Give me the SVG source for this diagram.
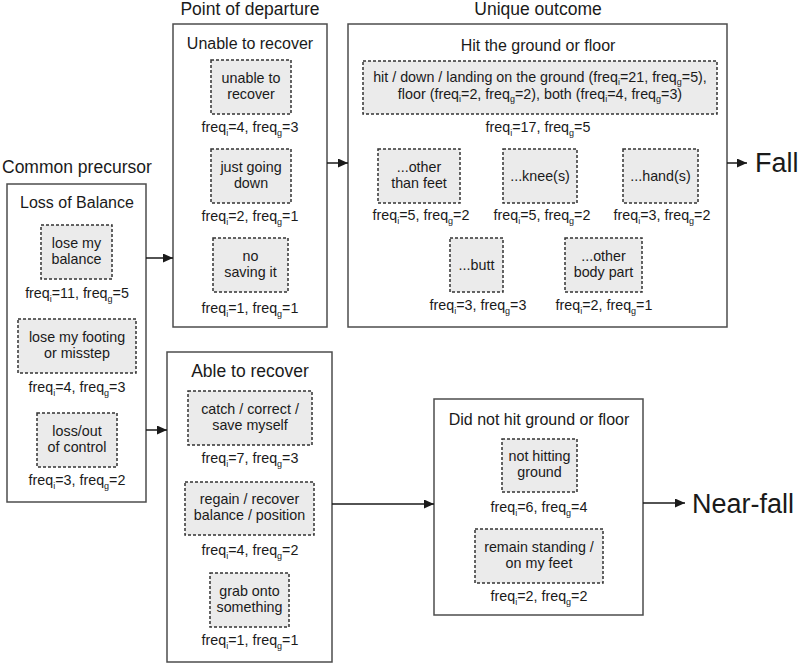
<svg xmlns="http://www.w3.org/2000/svg" width="800" height="664" viewBox="0 0 800 664">
<style>
text{font-family:"Liberation Sans",Arial,sans-serif;fill:#1a1a1a;text-anchor:middle}
.hd{font-size:17.5px}
.tt{font-size:16px}
.tb{font-size:17.5px}
.t{font-size:14.3px}
.sb{font-size:9px}
.box{fill:#fff;stroke:#4d4d4d;stroke-width:1.5}
.dash{fill:#ebebeb;stroke:#333;stroke-width:1.5;stroke-dasharray:3 2}
.big{font-size:27px;text-anchor:start}
.con{stroke:#1a1a1a;stroke-width:1.5;fill:none}
</style>
<defs>
<marker id="ah" markerUnits="userSpaceOnUse" markerWidth="11" markerHeight="10" refX="10" refY="4.5" orient="auto">
<path d="M0,0 L10,4.5 L0,9 z" fill="#1a1a1a"/>
</marker>
</defs>

<text class="hd" x="2" y="173" style="text-anchor:start">Common precursor</text>
<text class="hd" x="250" y="15">Point of departure</text>
<text class="hd" x="538" y="15">Unique outcome</text>

<g id="loss-of-balance">
<rect class="box" x="7" y="184" width="139" height="318"/>
<text class="tt" x="77" y="208">Loss of Balance</text>
<rect class="dash" x="41" y="225" width="71" height="54"/>
<text class="t" x="76.5" y="248">lose my</text>
<text class="t" x="76.5" y="264">balance</text>
<text class="t" x="77" y="298">freq<tspan class="sb" dy="4">i</tspan><tspan dy="-4">=11, freq</tspan><tspan class="sb" dy="4">g</tspan><tspan dy="-4">=5</tspan></text>
<rect class="dash" x="18" y="319" width="118" height="54"/>
<text class="t" x="77" y="342">lose my footing</text>
<text class="t" x="77" y="358">or misstep</text>
<text class="t" x="77" y="392">freq<tspan class="sb" dy="4">i</tspan><tspan dy="-4">=4, freq</tspan><tspan class="sb" dy="4">g</tspan><tspan dy="-4">=3</tspan></text>
<rect class="dash" x="37" y="413" width="80" height="54"/>
<text class="t" x="77" y="436">loss/out</text>
<text class="t" x="77" y="452">of control</text>
<text class="t" x="77" y="485">freq<tspan class="sb" dy="4">i</tspan><tspan dy="-4">=3, freq</tspan><tspan class="sb" dy="4">g</tspan><tspan dy="-4">=2</tspan></text>
</g>

<g id="unable-to-recover">
<rect class="box" x="173" y="24" width="154" height="303"/>
<text class="tt" x="250" y="49">Unable to recover</text>
<rect class="dash" x="211" y="60" width="80" height="54"/>
<text class="t" x="251" y="83">unable to</text>
<text class="t" x="251" y="99">recover</text>
<text class="t" x="250" y="132">freq<tspan class="sb" dy="4">i</tspan><tspan dy="-4">=4, freq</tspan><tspan class="sb" dy="4">g</tspan><tspan dy="-4">=3</tspan></text>
<rect class="dash" x="211" y="149" width="80" height="54"/>
<text class="t" x="251" y="172">just going</text>
<text class="t" x="251" y="188">down</text>
<text class="t" x="250" y="221">freq<tspan class="sb" dy="4">i</tspan><tspan dy="-4">=2, freq</tspan><tspan class="sb" dy="4">g</tspan><tspan dy="-4">=1</tspan></text>
<rect class="dash" x="213" y="238" width="75" height="54"/>
<text class="t" x="250.5" y="261">no</text>
<text class="t" x="250.5" y="277">saving it</text>
<text class="t" x="250" y="313">freq<tspan class="sb" dy="4">i</tspan><tspan dy="-4">=1, freq</tspan><tspan class="sb" dy="4">g</tspan><tspan dy="-4">=1</tspan></text>
</g>

<g id="hit-the-ground">
<rect class="box" x="348" y="24" width="379" height="303"/>
<text class="tt" x="538" y="51">Hit the ground or floor</text>
<rect class="dash" x="363" y="61" width="354" height="53"/>
<text class="t" x="540" y="82">hit / down / landing on the ground (freq<tspan class="sb" dy="3">i</tspan><tspan dy="-3">=21, freq</tspan><tspan class="sb" dy="3">g</tspan><tspan dy="-3">=5),</tspan></text>
<text class="t" x="540" y="99">floor (freq<tspan class="sb" dy="3">i</tspan><tspan dy="-3">=2, freq</tspan><tspan class="sb" dy="3">g</tspan><tspan dy="-3">=2), both (freq</tspan><tspan class="sb" dy="3">i</tspan><tspan dy="-3">=4, freq</tspan><tspan class="sb" dy="3">g</tspan><tspan dy="-3">=3)</tspan></text>
<text class="t" x="538" y="132">freq<tspan class="sb" dy="4">i</tspan><tspan dy="-4">=17, freq</tspan><tspan class="sb" dy="4">g</tspan><tspan dy="-4">=5</tspan></text>

<rect class="dash" x="378" y="149" width="82" height="54"/>
<text class="t" x="419" y="172">...other</text>
<text class="t" x="419" y="188">than feet</text>
<text class="t" x="421" y="220">freq<tspan class="sb" dy="4">i</tspan><tspan dy="-4">=5, freq</tspan><tspan class="sb" dy="4">g</tspan><tspan dy="-4">=2</tspan></text>

<rect class="dash" x="503" y="149" width="74" height="54"/>
<text class="t" x="540" y="181">...knee(s)</text>
<text class="t" x="542" y="220">freq<tspan class="sb" dy="4">i</tspan><tspan dy="-4">=5, freq</tspan><tspan class="sb" dy="4">g</tspan><tspan dy="-4">=2</tspan></text>

<rect class="dash" x="623" y="149" width="75" height="54"/>
<text class="t" x="660.5" y="181">...hand(s)</text>
<text class="t" x="662" y="220">freq<tspan class="sb" dy="4">i</tspan><tspan dy="-4">=3, freq</tspan><tspan class="sb" dy="4">g</tspan><tspan dy="-4">=2</tspan></text>

<rect class="dash" x="450" y="238" width="53" height="54"/>
<text class="t" x="476.5" y="270">...butt</text>
<text class="t" x="478" y="310">freq<tspan class="sb" dy="4">i</tspan><tspan dy="-4">=3, freq</tspan><tspan class="sb" dy="4">g</tspan><tspan dy="-4">=3</tspan></text>

<rect class="dash" x="565" y="238" width="77" height="54"/>
<text class="t" x="603.5" y="261">...other</text>
<text class="t" x="603.5" y="277">body part</text>
<text class="t" x="604" y="310">freq<tspan class="sb" dy="4">i</tspan><tspan dy="-4">=2, freq</tspan><tspan class="sb" dy="4">g</tspan><tspan dy="-4">=1</tspan></text>
</g>

<g id="able-to-recover">
<rect class="box" x="167" y="352" width="165" height="310"/>
<text class="tb" x="250" y="377">Able to recover</text>
<rect class="dash" x="188" y="391" width="124" height="54"/>
<text class="t" x="250" y="414">catch / correct /</text>
<text class="t" x="250" y="430">save myself</text>
<text class="t" x="250" y="463">freq<tspan class="sb" dy="4">i</tspan><tspan dy="-4">=7, freq</tspan><tspan class="sb" dy="4">g</tspan><tspan dy="-4">=3</tspan></text>
<rect class="dash" x="185" y="482" width="129" height="53"/>
<text class="t" x="249.5" y="504">regain / recover</text>
<text class="t" x="249.5" y="520">balance / position</text>
<text class="t" x="250" y="555">freq<tspan class="sb" dy="4">i</tspan><tspan dy="-4">=4, freq</tspan><tspan class="sb" dy="4">g</tspan><tspan dy="-4">=2</tspan></text>
<rect class="dash" x="210" y="573" width="79" height="54"/>
<text class="t" x="249.5" y="596">grab onto</text>
<text class="t" x="249.5" y="612">something</text>
<text class="t" x="250" y="645">freq<tspan class="sb" dy="4">i</tspan><tspan dy="-4">=1, freq</tspan><tspan class="sb" dy="4">g</tspan><tspan dy="-4">=1</tspan></text>
</g>

<g id="did-not-hit">
<rect class="box" x="434" y="399" width="209" height="216"/>
<text class="tt" x="539" y="425">Did not hit ground or floor</text>
<rect class="dash" x="502" y="439" width="75" height="53"/>
<text class="t" x="539.5" y="461">not hitting</text>
<text class="t" x="539.5" y="477">ground</text>
<text class="t" x="539" y="512">freq<tspan class="sb" dy="4">i</tspan><tspan dy="-4">=6, freq</tspan><tspan class="sb" dy="4">g</tspan><tspan dy="-4">=4</tspan></text>
<rect class="dash" x="475" y="529" width="128" height="54"/>
<text class="t" x="539" y="552">remain standing /</text>
<text class="t" x="539" y="568">on my feet</text>
<text class="t" x="539" y="601">freq<tspan class="sb" dy="4">i</tspan><tspan dy="-4">=2, freq</tspan><tspan class="sb" dy="4">g</tspan><tspan dy="-4">=2</tspan></text>
</g>

<g id="fall">
<text class="big" x="755" y="172">Fall</text>
</g>
<g id="near-fall">
<text class="big" x="692" y="513">Near-fall</text>
</g>

<g id="connectors">
<line class="con" x1="146" y1="258" x2="173" y2="258" marker-end="url(#ah)"/>
<line class="con" x1="146" y1="430" x2="167" y2="430" marker-end="url(#ah)"/>
<line class="con" x1="327" y1="163" x2="348" y2="163" marker-end="url(#ah)"/>
<line class="con" x1="332" y1="504" x2="434" y2="504" marker-end="url(#ah)"/>
<line class="con" x1="727" y1="163" x2="747" y2="163" marker-end="url(#ah)"/>
<line class="con" x1="643" y1="503" x2="685" y2="503" marker-end="url(#ah)"/>
</g>
</svg>
